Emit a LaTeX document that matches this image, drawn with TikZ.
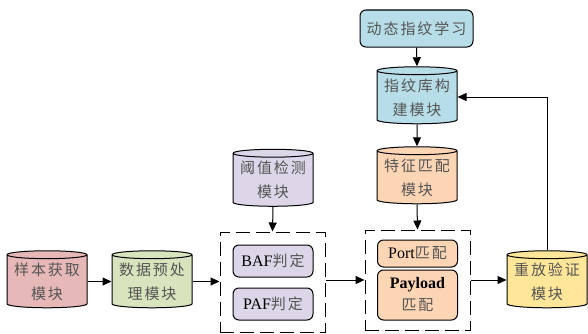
\documentclass[tikz,border=0pt]{standalone}
\usepackage{fontspec}
\setmainfont{Liberation Serif}
\newfontfamily\cjk[LetterSpace=13]{Noto Sans CJK SC}
\usetikzlibrary{shapes.geometric,arrows.meta}
\definecolor{cpink}{HTML}{E6B8B7}
\definecolor{cgreen}{HTML}{D7E4BD}
\definecolor{clav}{HTML}{DCD6E8}
\definecolor{cblue}{HTML}{B7DEE8}
\definecolor{cpeach}{HTML}{FCD5B5}
\definecolor{cyellow}{HTML}{FFE699}
\definecolor{ctext}{HTML}{555555}
\begin{document}
\begin{tikzpicture}[x=1pt,y=1pt,
  cyl/.style={cylinder, shape border rotate=90, aspect=0.12, draw, line width=1pt,
    minimum width=80pt, minimum height=57pt, align=center, inner sep=0pt,
    font=\cjk\fontsize{15}{24}\selectfont, text=ctext},
  rbox/.style={rectangle, rounded corners=6pt, draw, line width=1pt,
    minimum width=80pt, align=center, inner sep=0pt,
    font=\fontsize{16}{22}\selectfont, text=black},
  dbox/.style={rectangle, draw, line width=1pt, dash pattern=on 14pt off 6pt,
    minimum width=105pt, minimum height=100pt, inner sep=0pt},
  arr/.style={line width=1pt, -{Triangle[length=9pt,width=8pt]}}
]
\useasboundingbox (0,0) rectangle (588,333);
% cylinders
\node[cyl, fill=cpink]   (yb) at (47,51.5)   {样本获取\\模块};
\node[cyl, fill=cgreen]  (sj) at (152,51.5)  {数据预处\\理模块};
\node[cyl, fill=clav]    (yz) at (273,153)   {阈值检测\\模块};
\node[cyl, fill=cblue]   (zw) at (417,235.5) {指纹库构\\建模块};
\node[cyl, fill=cpeach]  (tz) at (417,155.5) {特征匹配\\模块};
\node[cyl, fill=cyellow] (cf) at (547,51.5)  {重放验证\\模块};
% top rounded box
\node[rbox, fill=cblue, minimum width=113pt, minimum height=37pt, font=\cjk\fontsize{15}{20}\selectfont, text=ctext]
  (dt) at (416.5,304.5) {动态指纹学习};
% dashed groups
\node[dbox] (d1) at (272.5,51) {};
\node[dbox] (d2) at (417.5,53) {};
% inner boxes
\node[rbox, fill=clav, minimum height=32pt] (baf) at (273,72) {BAF{\cjk\fontsize{15}{20}\selectfont\color{ctext}判定}};
\node[rbox, fill=clav, minimum height=32pt] (paf) at (273,29) {PAF{\cjk\fontsize{15}{20}\selectfont\color{ctext}判定}};
\node[rbox, fill=cpeach, minimum height=27pt] (port) at (417.5,79.5) {Port{\cjk\fontsize{15}{20}\selectfont\color{ctext}匹配}};
\node[rbox, fill=cpeach, minimum height=50pt] (pay) at (417.5,38) {\textbf{Payload}\\{\cjk\fontsize{15}{20}\selectfont\color{ctext}匹配}};
% arrows
\draw[arr] (yb.east) -- (sj.west);
\draw[arr] (sj.east) -- (sj.east -| d1.west);
\draw[arr] (yz.south) -- (d1.north);
\draw[arr] (d1.east |- 0,53) -- (d2.west |- 0,53);
\draw[arr] (d2.east |- 0,53) -- (cf.west |- 0,53);
\draw[arr] (dt.south) -- (zw.north);
\draw[arr] (zw.south) -- (tz.north);
\draw[arr] (tz.south) -- (d2.north);
\draw[arr] (cf.north) |- (zw.east |- 0,236);
\end{tikzpicture}
\end{document}
